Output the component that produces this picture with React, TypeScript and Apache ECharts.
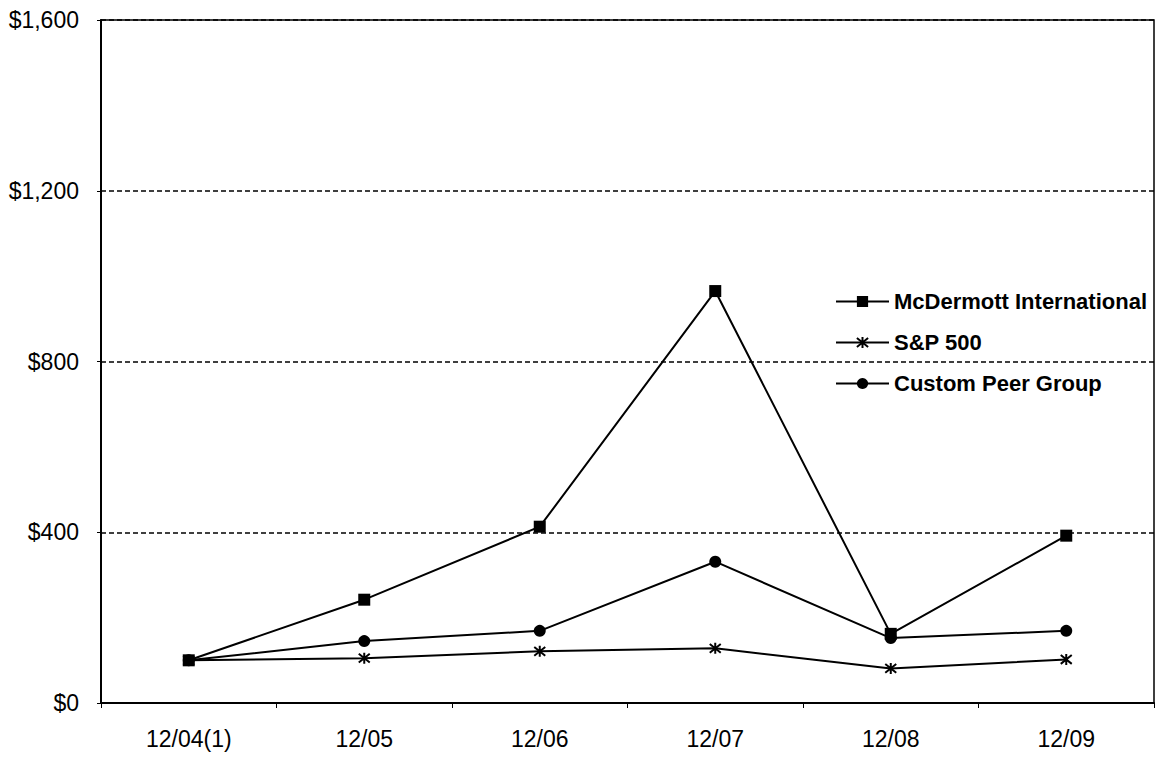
import React, { useEffect, useRef } from "react";
import * as echarts from "echarts";

const categories = ["12/04(1)", "12/05", "12/06", "12/07", "12/08", "12/09"];
const mcdermott = [100, 242, 413, 965, 162, 392];
const sp500 = [100, 105, 121, 128, 81, 102];
const peerGroup = [100, 145, 169, 331, 152, 169];
const yTicks = [0, 400, 800, 1200, 1600];

const FONT = "'Liberation Sans', Arial, Helvetica, sans-serif";
const STAR = "path://M5 0 L5 10 M1 1 L9 9 M1 9 L9 1";

export default function App() {
  const ref = useRef<HTMLDivElement>(null);
  useEffect(() => {
    if (!ref.current) return;
    const chart = echarts.init(ref.current, null, { renderer: "svg" });
    chart.setOption({
      animation: false,
      backgroundColor: "#fff",
      textStyle: { fontFamily: FONT, color: "#000" },
      grid: {
        left: 101,
        right: 3,
        top: 20,
        bottom: 54,
        show: true,
        borderColor: "#000",
        borderWidth: 1.5,
        containLabel: false,
      },
      legend: {
        orient: "vertical",
        left: 835,
        top: 290,
        padding: 0,
        itemWidth: 53,
        itemHeight: 14,
        itemGap: 18,
        textStyle: {
          fontFamily: FONT,
          fontSize: 22,
          fontWeight: "bold",
          color: "#000",
          lineHeight: 23,
        },
        data: ["McDermott International", "S&P 500", "Custom Peer Group"],
      },
      xAxis: {
        type: "category",
        data: categories,
        boundaryGap: true,
        axisLine: { lineStyle: { color: "#000", width: 2 } },
        axisTick: { show: true, length: 5, lineStyle: { color: "#000", width: 1 } },
        axisLabel: { fontFamily: FONT, fontSize: 23, color: "#000", margin: 24 },
        splitLine: { show: false },
      },
      yAxis: {
        type: "value",
        min: yTicks[0],
        max: yTicks[yTicks.length - 1],
        interval: 400,
        axisLine: { show: true, lineStyle: { color: "#000", width: 2 } },
        axisTick: { show: true, length: 4, lineStyle: { color: "#000", width: 1 } },
        axisLabel: {
          fontFamily: FONT,
          fontSize: 23,
          color: "#000",
          margin: 22,
          formatter: (v: number) => "$" + v.toLocaleString("en-US"),
        },
        splitLine: {
          show: true,
          lineStyle: { color: "#000", type: [5, 3], width: 1.5 },
        },
      },
      series: [
        {
          name: "McDermott International",
          type: "line",
          data: mcdermott,
          symbol: "rect",
          symbolSize: 12,
          lineStyle: { color: "#000", width: 2 },
          itemStyle: { color: "#000" },
        },
        {
          name: "S&P 500",
          type: "line",
          data: sp500,
          symbol: STAR,
          symbolSize: 11,
          lineStyle: { color: "#000", width: 2 },
          itemStyle: { color: "#000", borderColor: "#000", borderWidth: 2 },
        },
        {
          name: "Custom Peer Group",
          type: "line",
          data: peerGroup,
          symbol: "circle",
          symbolSize: 12,
          lineStyle: { color: "#000", width: 2 },
          itemStyle: { color: "#000" },
        },
      ],
    });
    return () => chart.dispose();
  }, []);
  return (
    <div
      ref={ref}
      style={{ position: "fixed", left: 0, top: 0, width: 1157, height: 757, background: "#fff" }}
    />
  );
}
